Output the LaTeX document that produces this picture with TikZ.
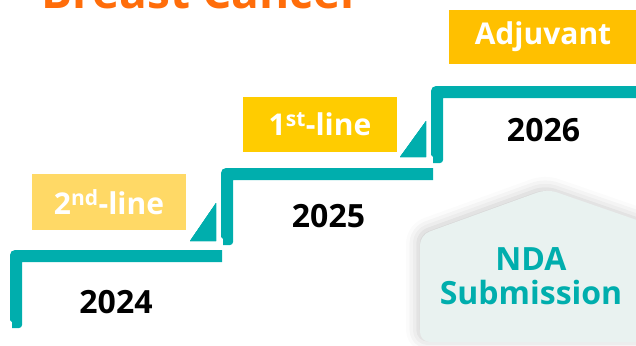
\documentclass[tikz,border=0pt]{standalone}
\usepackage{fontspec}
\setmainfont{Open Sans}
\usetikzlibrary{shadows.blur}
\definecolor{stairteal}{HTML}{00AEAD}
\definecolor{titleorange}{HTML}{FF6D0A}
\definecolor{paleyellow}{HTML}{FFD966}
\definecolor{midyellow}{HTML}{FFCC00}
\definecolor{deepyellow}{HTML}{FFC000}
\definecolor{ndagrey}{HTML}{E9F2F0}
\tikzset{
  linebox/.style={fill=#1,text=white,font=\bfseries\fontsize{30}{30}\selectfont,inner sep=0pt},
  year/.style={font=\bfseries\fontsize{32}{32}\selectfont,inner sep=0pt}
}
% one step of the staircase: left x, top y, right end x, bottom y
\newcommand{\stair}[4]{
  \fill[stairteal] (#1,#4-8) -- (#1+2,#4-6) -- (#1+2,#4)
    [rounded corners=3pt] -- (#1+12,#4) [sharp corners] -- (#1+12,#2+12)
    -- (#3,#2+12) -- (#3,#2) [rounded corners=5pt] -- (#1,#2) [sharp corners] -- cycle;
}

\begin{document}
\begin{tikzpicture}[x=1pt,y=-1pt]
  \useasboundingbox (0,0) rectangle (636,345);
  \clip (0,0) rectangle (636,345);
  \node (title) [anchor=base west,text=titleorange,font=\bfseries\fontsize{46}{46}\selectfont,
    blur shadow={shadow xshift=1.5pt,shadow yshift=-2pt,shadow blur radius=2pt,shadow opacity=0}] at (38,9) {Breast Cancer};

  \fill[ndagrey,rounded corners=10pt,blur shadow={shadow xshift=-2pt,shadow yshift=2pt,shadow blur radius=12pt,shadow opacity=22}]
    (420,235) -- (547,189) -- (680,235) -- (680,342) -- (420,342) -- cycle;
  \node (nda) [anchor=north,align=center,inner sep=0pt,text=stairteal,font=\bfseries\fontsize{32}{34}\selectfont] at (531,247) {NDA\\Submission};

  \foreach \x/\t/\e/\b in {10/250/222/328, 221/168/433/245, 431/86/640/163}
    \stair{\x}{\t}{\e}{\b}
  \foreach \x/\b/\a in {216/241/203, 426/157/121}
    \fill[stairteal] (\x-26,\b) -- (\x,\b) -- (\x,\a) -- cycle;

  \node (second) [linebox=paleyellow,minimum width=154pt,minimum height=56pt] at (109,202) {2\textsuperscript{nd}-line};
  \node (first) [linebox=midyellow,minimum width=154pt,minimum height=55pt] at (320,124.5) {1\textsuperscript{st}-line};
  \node (adjuvant) [linebox=deepyellow,minimum width=188pt,minimum height=54pt] at (543,37) {Adjuvant};

  \node (y2024) [year] at (116,302.5) {2024};
  \node (y2025) [year] at (328.5,216.5) {2025};
  \node (y2026) [year] at (543.5,130) {2026};
\end{tikzpicture}
\end{document}
